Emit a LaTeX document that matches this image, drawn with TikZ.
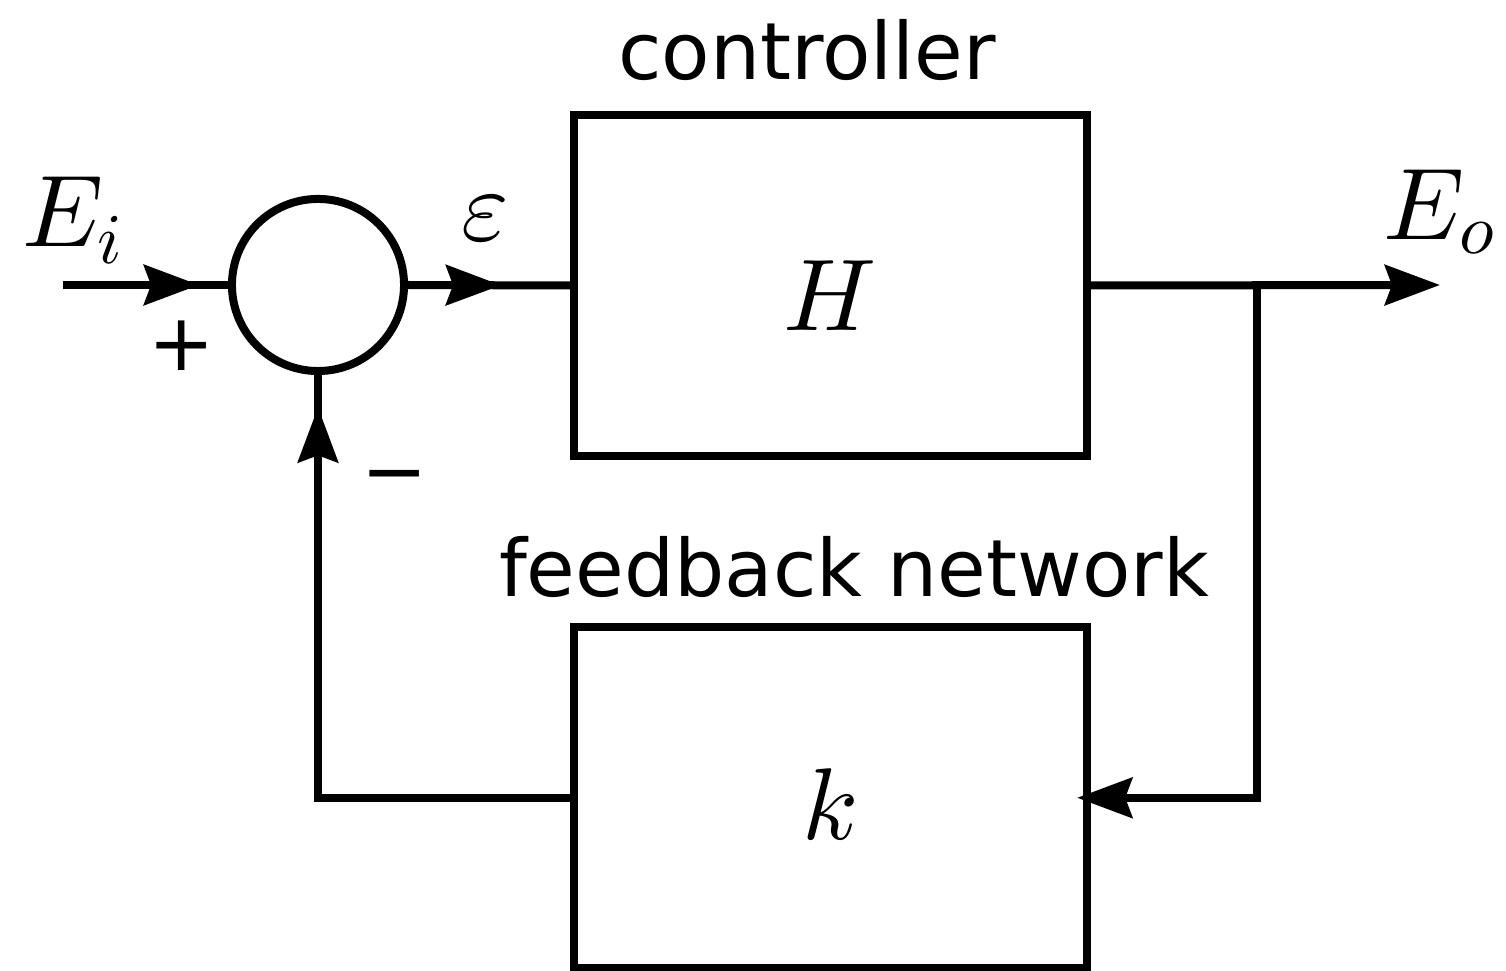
\documentclass[tikz,border=0pt]{standalone}
\usepackage{fontspec}
\setmainfont{DejaVu Sans}
\DeclareFontFamily{OML}{cmm}{\skewchar\font'177}
\DeclareFontShape{OML}{cmm}{m}{it}{<-> cmmi10}{}
\usetikzlibrary{arrows.meta,positioning,decorations.markings}
\tikzstyle{block}=[
	rectangle,
	draw,
	line width=0.08cm,
	outer sep=0pt,
	minimum width=5.13cm,
	minimum height=3.41cm
]
\tikzstyle{junction}=[
	circle,
	draw,
	line width=0.08cm,
	outer sep=0pt,
	inner sep=0pt,
	minimum size=1.72cm
]
\tikzstyle{signal}=[
	line width=0.08cm,
	>={Stealth[length=0.55cm,width=0.4cm,inset=0.07cm]}
]
\tikzstyle{title}=[font=\fontsize{22.5}{27}\selectfont]
\tikzstyle{sym}=[inner sep=0pt,font=\fontsize{29}{34}\selectfont]
\tikzset{
	midarrow/.style={
		postaction={decorate},
		decoration={markings,
			mark=at position #1 with {\arrow{Stealth[length=0.55cm,width=0.4cm,inset=0.07cm]}}}
	}
}

\begin{document}
\begin{tikzpicture}[x=0.01cm,y=-0.01cm]
\useasboundingbox (0,0) rectangle (1506,971);
\node [junction] (Sum) at (318,285) {};
\node [block] (Controller) at (830.5,285.5) {};
\node [block] (Feedback) [below=1.71cm of Controller] {};
\node [sym] (Plant) at ([yshift=-0.1cm]Controller.center) {$H$};
\node [sym] (Gain) at ([yshift=-0.06cm]Feedback.center) {$k$};
\node [title] (ControllerLabel) at (807,50) {controller};
\node [title] (FeedbackLabel) at (854,567) {feedback network};
\node [title] (Plus) at (182,346) {+};
\node [title] (Minus) at (395,484) {−};
\node [sym, anchor=base west] (Input) at (22,247) {$E_i$};
\node [sym, anchor=base west] (Output) at (1383,240) {$E_o$};
\node [sym, anchor=base west] (Error) at (461,241) {$\varepsilon$};
\coordinate (In) at (63,285);
\coordinate (Out) at (1440,285);
\coordinate (Branch) at (1257,285);
% signal path
\draw [signal, midarrow=1.36cm] (In) -- (Sum.west);
\draw [signal, midarrow=0.97cm] (Sum.east) -- (Controller.west);
\draw [signal, ->] (Controller.east) -- (Out);
% feedback loop
\draw [signal, ->, shorten >=-0.1cm] (Branch) |- (Feedback.east);
\draw [signal, midarrow=6.46cm] (Feedback.west) -| (Sum.south);
\end{tikzpicture}
\end{document}
